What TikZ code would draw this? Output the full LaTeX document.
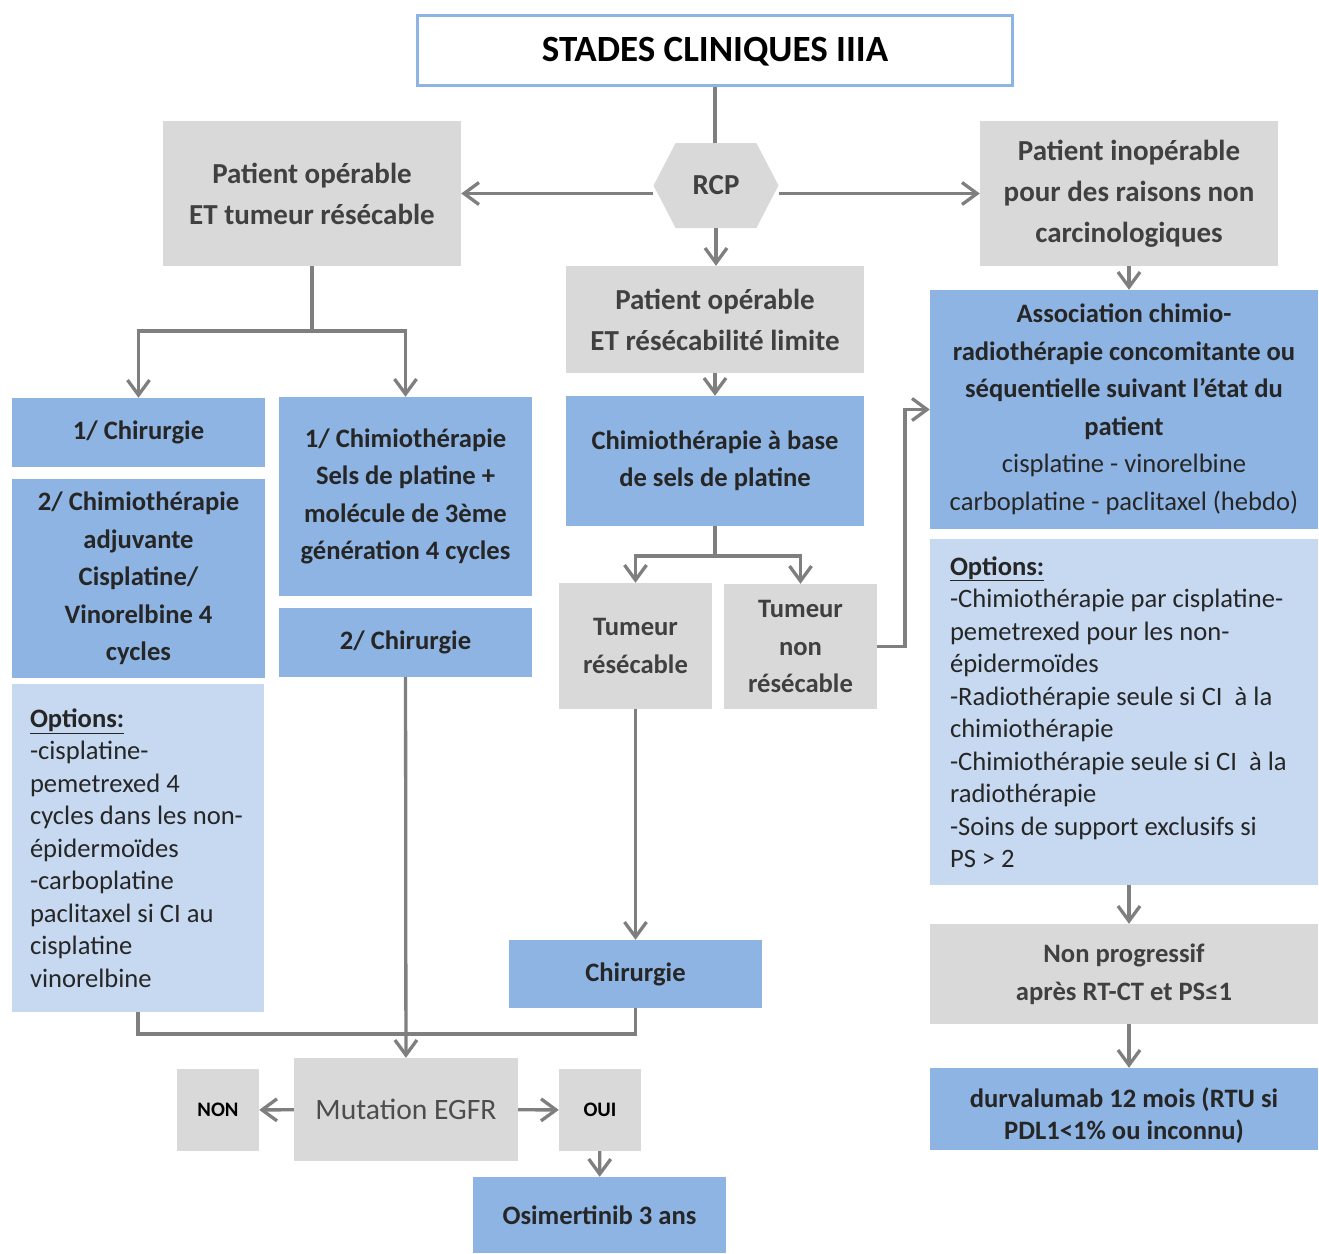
\documentclass[tikz,border=0pt]{standalone}
\usepackage{fontspec}
\setmainfont{Carlito}
\usetikzlibrary{arrows.meta,shapes.symbols}
\definecolor{boxgray}{HTML}{D9D9D9}
\definecolor{boxblue}{HTML}{8EB4E3}
\definecolor{optblue}{HTML}{C6D9F1}
\definecolor{linegray}{HTML}{7F7F7F}
\definecolor{textgray}{HTML}{404040}
\definecolor{textmid}{HTML}{4D4D4D}
\definecolor{textdark}{HTML}{262626}
\tikzset{
	base/.style={rectangle,inner sep=0pt,align=center},
	grise/.style={base,fill=boxgray,text=textgray,font=\fontsize{26.6}{37.5}\selectfont\bfseries},
	grande/.style={grise,font=\fontsize{29}{41}\selectfont\bfseries},
	bleue/.style={base,fill=boxblue,text=textdark,font=\fontsize{26.6}{37.5}\selectfont\bfseries},
	option/.style={base,fill=optblue,text=textdark,align=flush left,font=\fontsize{26.6}{32.5}\selectfont},
	titre/.style={base,draw=boxblue,line width=3pt,fill=white,text depth=0pt,font=\fontsize{37}{44}\selectfont\bfseries},
	reponse/.style={base,fill=boxgray,text=black,font=\fontsize{20.6}{25}\selectfont\bfseries},
	trait/.style={draw=linegray,line width=3.3pt},
	fleche/.style={trait,-{Straight Barb[length=15pt,width=22pt]}},
}
\begin{document}
\begin{tikzpicture}[x=1pt,y=-1pt]
	\useasboundingbox (0,0) rectangle (1319,1253);
	\node[titre,minimum width=595,minimum height=70,text height=22pt] (stades) at (715,50) {STADES CLINIQUES IIIA};
	\node[grande,signal,signal to=west and east,signal pointer angle=125,minimum width=125,minimum height=85] (rcp) at (716,185.5) {RCP};
	\node[grande,minimum width=298,minimum height=145] (operable) at (312,193.5) {Patient opérable\\ET tumeur résécable};
	\node[grande,minimum width=298,minimum height=145] (inoperable) at (1129,193.5) {Patient inopérable\\pour des raisons non\\carcinologiques};
	\node[grande,minimum width=298,minimum height=107] (limite) at (715,319.5) {Patient opérable\\ET résécabilité limite};
	\node[bleue,minimum width=298,minimum height=130] (chimioBase) at (715,461) {Chimiothérapie à base\\de sels de platine};
	\node[grise,minimum width=153,minimum height=126] (tumRes) at (635.5,646) {Tumeur\\résécable};
	\node[grise,minimum width=153,minimum height=125] (tumNonRes) at (800.5,646.5) {Tumeur\\non\\résécable};
	\node[bleue,minimum width=388,minimum height=239] (assoc) at (1124,409.5) {Association chimio-\\radiothérapie concomitante ou\\séquentielle suivant l’état du\\patient\\\mdseries cisplatine - vinorelbine\\\mdseries carboplatine - paclitaxel (hebdo)};
	\node[option,minimum width=388,minimum height=346,text width=348,inner xsep=20pt] (optDroite) at (1124,712) {\underline{\textbf{Options:}}\\-Chimiothérapie par cisplatine-\\pemetrexed pour les non-\\épidermoïdes\\-Radiothérapie seule si CI~ à la\\chimiothérapie\\-Chimiothérapie seule si CI~ à la\\radiothérapie\\-Soins de support exclusifs si\\PS > 2};
	\node[grise,minimum width=388,minimum height=100] (nonProg) at (1124,974) {Non progressif\\après RT-CT et PS≤1};
	\node[bleue,minimum width=388,minimum height=82,font=\fontsize{26.6}{32}\selectfont\bfseries] (durva) at (1124,1109) {\rule{0pt}{32pt}durvalumab 12 mois (RTU si\\PDL1<1\% ou inconnu)};
	\node[bleue,minimum width=253,minimum height=69] (chir1) at (138.5,432.5) {1/ Chirurgie};
	\node[bleue,minimum width=253,minimum height=199] (chimioAdj) at (138.5,578.5) {2/ Chimiothérapie\\adjuvante\\Cisplatine/\\Vinorelbine 4\\cycles};
	\node[option,minimum width=252,minimum height=328,text width=216,inner xsep=18pt] (optGauche) at (138,848) {\underline{\textbf{Options:}}\\-cisplatine-\\pemetrexed 4\\cycles dans les non-\\épidermoïdes\\-carboplatine\\paclitaxel si CI au\\cisplatine\\vinorelbine};
	\node[bleue,minimum width=253,minimum height=199] (chimioNeo) at (405.5,496.5) {1/ Chimiothérapie\\Sels de platine +\\molécule de 3ème\\génération 4 cycles};
	\node[bleue,minimum width=253,minimum height=69] (chir2) at (405.5,642.5) {2/ Chirurgie};
	\node[bleue,minimum width=253,minimum height=68] (chirurgie) at (635.5,974) {Chirurgie};
	\node[base,fill=boxgray,text=textmid,font=\fontsize{29.6}{36}\selectfont,minimum width=224,minimum height=103] (egfr) at (406,1109.5) {Mutation EGFR};
	\node[reponse,minimum width=82,minimum height=82] (non) at (218,1110) {NON};
	\node[reponse,minimum width=82,minimum height=82] (oui) at (600,1110) {OUI};
	\node[bleue,minimum width=253,minimum height=76] (osim) at (599.5,1215) {Osimertinib 3 ans};
	\draw[trait] (stades.south) -- (stades.south |- rcp.north);
	\draw[fleche] (rcp.west |- operable.east) -- (operable.east);
	\draw[fleche] (rcp.east |- inoperable.west) -- (inoperable.west);
	\draw[fleche] (rcp.south) -- (rcp.south |- limite.north);
	\coordinate (fourcheG) at (312,331);
	\draw[fleche] (operable.south) -- (fourcheG) -| (chir1.north);
	\draw[fleche] (fourcheG) -| (chimioNeo.north);
	\draw[fleche] (limite) -- (chimioBase);
	\coordinate (fourcheC) at (715,556);
	\draw[fleche] (chimioBase.south) -- (fourcheC) -| (tumRes.north);
	\draw[fleche] (fourcheC) -| (tumNonRes.north);
	\coordinate (coudeD) at (905,646.5);
	\draw[fleche] (tumNonRes.east) -- (coudeD) |- (assoc.west);
	\draw[fleche] (inoperable.south) -- (inoperable.south |- assoc.north);
	\draw[fleche] (inoperable.south |- optDroite.south) -- (inoperable.south |- nonProg.north);
	\draw[fleche] (inoperable.south |- nonProg.south) -- (inoperable.south |- durva.north);
	\draw[fleche] (tumRes) -- (chirurgie);
	\coordinate (jonction) at (405.5,1034);
	\draw[trait] (optGauche.south) |- (jonction);
	\draw[trait] (chirurgie.south) |- (jonction);
	\draw[fleche] (chir2) -- (egfr);
	\draw[fleche] (egfr) -- (non);
	\draw[fleche] (egfr) -- (oui);
	\draw[fleche] (oui) -- (osim);
\end{tikzpicture}
\end{document}
